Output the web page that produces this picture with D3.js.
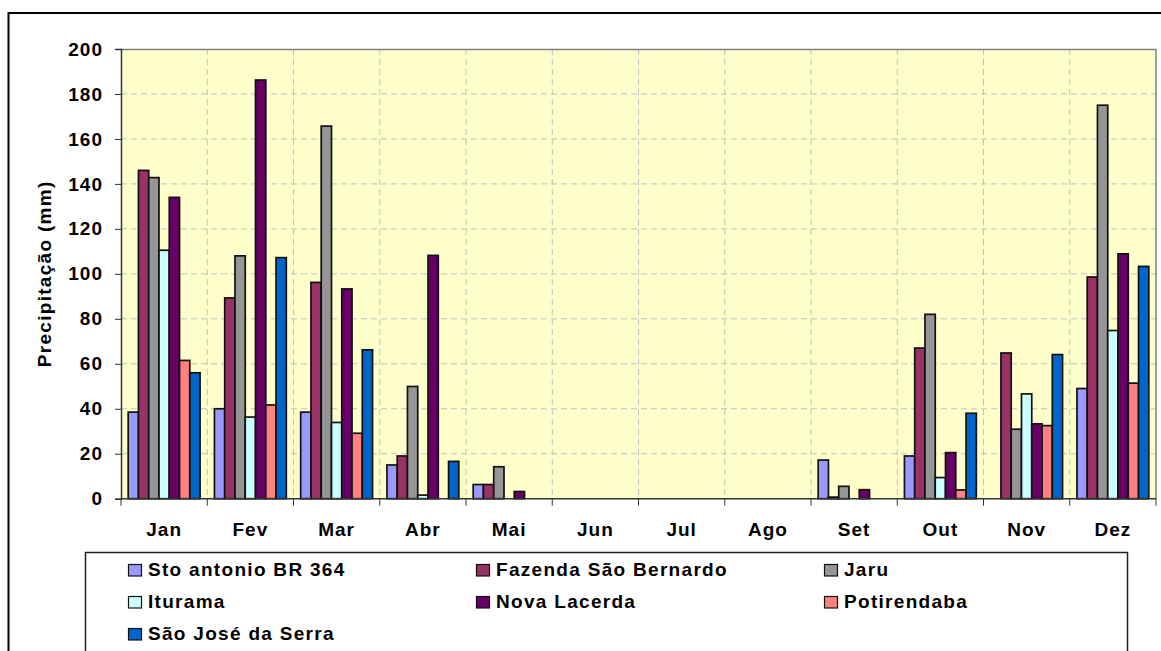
<!DOCTYPE html>
<html>
<head>
<meta charset="utf-8">
<script src="https://cdn.jsdelivr.net/npm/d3@7"></script>
<style>
  body { margin: 0; background: #fff; }
  text { font-family: Arial, "Liberation Sans", sans-serif; font-weight: bold; fill: #000; letter-spacing: 1px; }
</style>
</head>
<body>
<div class="chart"></div>
<script>
// chart data
var months = ["Jan", "Fev", "Mar", "Abr", "Mai", "Jun", "Jul", "Ago", "Set", "Out", "Nov", "Dez"];
var seriesNames = [
  "Sto antonio BR 364",
  "Fazenda São Bernardo",
  "Jaru",
  "Iturama",
  "Nova Lacerda",
  "Potirendaba",
  "São José da Serra"
];
var stoAntonio = [38.5, 40, 38.5, 15, 6.3, 0, 0, 0, 17.2, 19, 0, 49];
var fazendaSaoBernardo = [146, 89.3, 96.2, 19, 6.3, 0, 0, 0, 0.7, 67, 64.8, 98.6];
var jaru = [142.8, 108, 165.7, 49.9, 14.2, 0, 0, 0, 5.5, 82, 30.9, 175];
var iturama = [110.5, 36.3, 33.9, 1.6, 0, 0, 0, 0, 0, 9.4, 46.6, 74.8];
var novaLacerda = [134, 186.2, 93.3, 108.2, 3.2, 0, 0, 0, 4, 20.5, 33.3, 108.9];
var potirendaba = [61.5, 41.7, 29.1, 0, 0, 0, 0, 0, 0, 3.9, 32.5, 51.4];
var saoJoseDaSerra = [56, 107.2, 66.2, 16.6, 0, 0, 0, 0, 0, 38, 64.1, 103.3];
var yTicks = [0, 20, 40, 60, 80, 100, 120, 140, 160, 180, 200];

var seriesValues = [stoAntonio, fazendaSaoBernardo, jaru, iturama, novaLacerda, potirendaba, saoJoseDaSerra];
var colors = ["#9999FF", "#993366", "#969696", "#CCFFFF", "#660066", "#FF8080", "#0066CC"];

// svg + plot dimensions
var svgWidth = 1161;
var svgHeight = 651;
var margin = { top: 49, left: 121 };
var chartWidth = 1035;
var chartHeight = 449.7;

var svg = d3.select(".chart")
  .append("svg")
  .attr("width", svgWidth)
  .attr("height", svgHeight);

// outer chart border (runs off the right and bottom edges)
svg.append("rect")
  .attr("x", 8.5)
  .attr("y", 13)
  .attr("width", 1170)
  .attr("height", 700)
  .attr("fill", "none")
  .attr("stroke", "#000")
  .attr("stroke-width", 2);

var chartGroup = svg.append("g")
  .attr("transform", `translate(${margin.left}, ${margin.top})`);

// scales
var x0 = d3.scaleBand()
  .domain(months)
  .range([0, chartWidth]);

var x1 = d3.scaleBand()
  .domain(d3.range(seriesNames.length))
  .range([0, x0.bandwidth()])
  .paddingInner(0)
  .paddingOuter(0.7);

var yScale = d3.scaleLinear()
  .domain([0, 200])
  .range([chartHeight, 0]);

// plot background
chartGroup.append("rect")
  .attr("width", chartWidth)
  .attr("height", chartHeight)
  .attr("fill", "#FFFFCC");

// dashed gridlines
chartGroup.append("g")
  .selectAll("line")
  .data(yTicks.slice(1, -1))
  .enter()
  .append("line")
  .attr("x1", 0)
  .attr("x2", chartWidth)
  .attr("y1", d => yScale(d))
  .attr("y2", d => yScale(d))
  .attr("stroke", "#c0c0c0")
  .attr("stroke-dasharray", "6,4");

chartGroup.append("g")
  .selectAll("line")
  .data(months.slice(1))
  .enter()
  .append("line")
  .attr("x1", d => x0(d))
  .attr("x2", d => x0(d))
  .attr("y1", 0)
  .attr("y2", chartHeight)
  .attr("stroke", "#c0c0c0")
  .attr("stroke-dasharray", "6,4");

// top / right border of plot area
chartGroup.append("path")
  .attr("d", `M0,0.5H${chartWidth}V${chartHeight}`)
  .attr("fill", "none")
  .attr("stroke", "#808080")
  .attr("stroke-width", 1.5);

// bars
var monthGroups = chartGroup.selectAll(".month")
  .data(months)
  .enter()
  .append("g")
  .attr("transform", d => `translate(${x0(d)}, 0)`);

monthGroups.selectAll("rect")
  .data((m, i) => seriesValues.map((vals, s) => ({ s: s, v: vals[i] })).filter(d => d.v > 0))
  .enter()
  .append("rect")
  .attr("x", d => x1(d.s))
  .attr("y", d => yScale(d.v))
  .attr("width", x1.bandwidth())
  .attr("height", d => chartHeight - yScale(d.v))
  .attr("fill", d => colors[d.s])
  .attr("stroke", "#111")
  .attr("stroke-width", 1.7);

// y axis
var leftAxis = d3.axisLeft(yScale)
  .tickValues(yTicks)
  .tickSize(6)
  .tickPadding(12);

var yAxis = chartGroup.append("g").call(leftAxis);
yAxis.select(".domain").attr("stroke", "#333").attr("stroke-width", 1.5);
yAxis.selectAll(".tick line").attr("stroke", "#333");
yAxis.selectAll("text")
  .style("font-size", "19px")
  .attr("fill", "#000");

// x axis: ticks between months, labels centered
var xAxis = chartGroup.append("g")
  .attr("transform", `translate(0, ${chartHeight})`);

xAxis.append("line")
  .attr("x1", 0)
  .attr("x2", chartWidth)
  .attr("stroke", "#333")
  .attr("stroke-width", 1.5);

xAxis.selectAll(".xtick")
  .data(months.concat(["end"]))
  .enter()
  .append("line")
  .attr("x1", (d, i) => i * x0.step())
  .attr("x2", (d, i) => i * x0.step())
  .attr("y1", 0)
  .attr("y2", 7)
  .attr("stroke", "#333");

xAxis.selectAll(".xlabel")
  .data(months)
  .enter()
  .append("text")
  .attr("x", d => x0(d) + x0.bandwidth() / 2)
  .attr("y", 37)
  .attr("text-anchor", "middle")
  .style("font-size", "19px")
  .text(d => d);

// y axis title
svg.append("text")
  .attr("transform", "rotate(-90)")
  .attr("x", -(margin.top + chartHeight / 2))
  .attr("y", 51)
  .attr("text-anchor", "middle")
  .style("font-size", "19px")
  .style("letter-spacing", "1.3px")
  .text("Precipitação (mm)");

// legend box
svg.append("rect")
  .attr("x", 85.5)
  .attr("y", 552.5)
  .attr("width", 1042)
  .attr("height", 120)
  .attr("fill", "#fff")
  .attr("stroke", "#222")
  .attr("stroke-width", 1.5);

var legendItems = svg.selectAll(".legend")
  .data(seriesNames)
  .enter()
  .append("g")
  .attr("transform", (d, i) => `translate(${128 + (i % 3) * 348}, ${576 + Math.floor(i / 3) * 32})`);

legendItems.append("rect")
  .attr("x", 0.5)
  .attr("y", -11.5)
  .attr("width", 13)
  .attr("height", 11.5)
  .attr("fill", (d, i) => colors[i])
  .attr("stroke", "#111")
  .attr("stroke-width", 1.2);

legendItems.append("text")
  .attr("x", 20)
  .attr("y", 0)
  .style("font-size", "19px")
  .style("letter-spacing", "1.3px")
  .text(d => d);
</script>
</body>
</html>
